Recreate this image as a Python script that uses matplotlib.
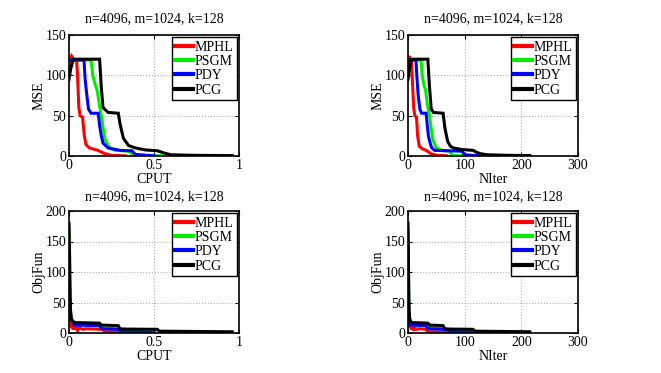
import matplotlib

matplotlib.use("Agg")
import matplotlib.pyplot as plt

plt.rcParams["font.family"] = ["Liberation Serif", "DejaVu Serif"]
plt.rcParams["font.size"] = 10

TITLE = "n=4096, m=1024, k=128"
METHODS = ["MPHL", "PSGM", "PDY", "PCG"]
COLORS = ["#ff0000", "#00ee00", "#0000ff", "#000000"]

# MSE vs CPU time
MSE_CPUT_MPHL_X = [0, 0.005, 0.015, 0.03, 0.045, 0.05, 0.058, 0.065, 0.08, 0.09, 0.1, 0.12, 0.17, 0.21, 0.25, 0.33]
MSE_CPUT_MPHL_Y = [112, 120, 124, 119, 118, 100, 60, 50, 48, 25, 14, 10, 7, 3, 0.8, 0.3]
MSE_CPUT_PSGM_X = [0, 0.13, 0.14, 0.155, 0.165, 0.18, 0.19, 0.2, 0.212, 0.24, 0.27, 0.35, 0.37, 0.39, 0.55]
MSE_CPUT_PSGM_Y = [119, 119, 100, 88, 82, 62, 50, 35, 20, 10, 7, 6, 3, 0.5, 0.2]
MSE_CPUT_PDY_X = [0, 0.088, 0.095, 0.105, 0.115, 0.13, 0.172, 0.18, 0.19, 0.2, 0.23, 0.3, 0.37, 0.39, 0.45, 0.5]
MSE_CPUT_PDY_Y = [119, 119, 95, 75, 58, 53, 53, 38, 25, 16, 10, 7, 6.5, 2, 1, 0.3]
MSE_CPUT_PCG_X = [0, 0.01, 0.025, 0.18, 0.19, 0.2, 0.23, 0.29, 0.3, 0.32, 0.35, 0.39, 0.45, 0.52, 0.555, 0.6, 0.75, 0.96]
MSE_CPUT_PCG_Y = [95, 108, 120, 120, 85, 60, 54, 53, 40, 22, 13, 10, 7.5, 6.5, 4, 1.5, 0.8, 0.5]

# MSE vs iterations
MSE_NITER_MPHL_X = [0, 2, 4, 6, 8, 10, 12, 15, 17, 20, 25, 32, 40, 50, 68]
MSE_NITER_MPHL_Y = [115, 124, 119, 118, 90, 60, 50, 48, 25, 12, 9, 7, 3, 1, 0.3]
MSE_NITER_PSGM_X = [0, 23, 25, 28, 31, 34, 38, 41, 44, 50, 60, 73, 76, 80, 100]
MSE_NITER_PSGM_Y = [119, 119, 100, 88, 82, 65, 50, 33, 20, 10, 7, 6, 3, 0.5, 0.2]
MSE_NITER_PDY_X = [0, 14, 16, 18, 21, 24, 32, 34, 36, 39, 42, 47, 70, 95, 100, 125]
MSE_NITER_PDY_Y = [119, 119, 95, 75, 58, 53, 53, 38, 25, 16, 10, 7, 6.5, 6, 1.5, 0.3]
MSE_NITER_PCG_X = [0, 3, 6, 35, 38, 41, 45, 62, 65, 70, 75, 80, 95, 115, 120, 127, 140, 180, 215]
MSE_NITER_PCG_Y = [95, 110, 120, 120, 85, 58, 54, 53, 35, 18, 12, 10, 8, 7, 5, 3, 1.5, 0.8, 0.5]

# objective function vs CPU time
OBJ_CPUT_MPHL_X = [0, 0.003, 0.006, 0.01, 0.015, 0.02, 0.025, 0.03, 0.035, 0.04, 0.05, 0.06, 0.08, 0.1, 0.2, 0.21, 0.33]
OBJ_CPUT_MPHL_Y = [90, 30, 10, 25, 8, 18, 5, 14, 6, 10, 4, 9, 6, 7, 6, 2, 1.5]
OBJ_CPUT_PSGM_X = [0, 0.004, 0.01, 0.03, 0.18, 0.2, 0.33, 0.35, 0.5]
OBJ_CPUT_PSGM_Y = [170, 60, 25, 17, 16, 8, 6, 2, 1]
OBJ_CPUT_PDY_X = [0, 0.004, 0.01, 0.03, 0.18, 0.19, 0.3, 0.31, 0.45, 0.5]
OBJ_CPUT_PDY_Y = [150, 60, 25, 13, 12, 7, 6, 2, 1.5, 1]
OBJ_CPUT_PCG_X = [0, 0.004, 0.008, 0.015, 0.03, 0.18, 0.19, 0.29, 0.3, 0.52, 0.53, 0.96]
OBJ_CPUT_PCG_Y = [180, 120, 40, 22, 17, 16, 13, 12, 6.5, 6, 3, 2]

# objective function vs iterations
OBJ_NITER_MPHL_X = [0, 1, 2, 3, 4, 5, 6, 7, 8, 9, 10, 12, 15, 20, 32, 35, 68]
OBJ_NITER_MPHL_Y = [90, 30, 10, 25, 8, 18, 5, 14, 6, 10, 4, 9, 6, 7, 6, 2, 1.5]
OBJ_NITER_PSGM_X = [0, 1, 2, 4, 35, 40, 73, 76, 100]
OBJ_NITER_PSGM_Y = [170, 50, 22, 17, 16, 8, 6, 2, 1]
OBJ_NITER_PDY_X = [0, 1, 2, 4, 32, 35, 70, 73, 100, 125]
OBJ_NITER_PDY_Y = [150, 50, 22, 13, 12, 7, 6, 2, 1.5, 1]
OBJ_NITER_PCG_X = [0, 1, 2, 3, 6, 35, 38, 62, 65, 115, 118, 215]
OBJ_NITER_PCG_Y = [180, 100, 35, 22, 17, 16, 13, 12, 6.5, 6, 3, 2]


def draw_panel(ax, series, xlabel, ylabel, xlim, xticks, ylim, yticks, title_pad):
    for (x, y), name, color in zip(series, METHODS, COLORS):
        ax.plot(x, y, color=color, lw=2.2, label=name, solid_joinstyle="miter")
    ax.set_xlim(*xlim)
    ax.set_ylim(*ylim)
    ax.set_xticks(xticks)
    ax.set_yticks(yticks)
    ax.set_xticklabels([f"{t:g}" for t in xticks])
    ax.set_xlabel(xlabel, labelpad=1)
    ax.set_ylabel(ylabel, labelpad=0)
    ax.set_title(TITLE, fontsize=10, pad=title_pad)
    ax.grid(True, color="#b0b0b0", linestyle=":", lw=0.8)
    ax.tick_params(direction="in", length=3, width=0.8, pad=2, top=True, right=True, labelsize=10)
    for spine in ax.spines.values():
        spine.set_linewidth(1.2)
    leg = ax.legend(
        loc="upper right",
        fontsize=10,
        handlelength=1.25,
        handletextpad=0.15,
        labelspacing=0.1,
        borderpad=0.25,
        borderaxespad=0.15,
        fancybox=False,
        framealpha=1,
    )
    leg.get_frame().set_edgecolor("black")
    leg.get_frame().set_linewidth(1.0)
    for line in leg.get_lines():
        line.set_linewidth(3)


fig = plt.figure(figsize=(6.61, 3.73), dpi=100)
W, H = 661, 373
ax_tl = fig.add_axes([69 / W, 1 - 156 / H, 170 / W, 121 / H])
ax_tr = fig.add_axes([408 / W, 1 - 156 / H, 170 / W, 121 / H])
ax_bl = fig.add_axes([69 / W, 1 - 333 / H, 170 / W, 122 / H])
ax_br = fig.add_axes([408 / W, 1 - 333 / H, 170 / W, 122 / H])

draw_panel(
    ax_tl,
    [(MSE_CPUT_MPHL_X, MSE_CPUT_MPHL_Y), (MSE_CPUT_PSGM_X, MSE_CPUT_PSGM_Y),
     (MSE_CPUT_PDY_X, MSE_CPUT_PDY_Y), (MSE_CPUT_PCG_X, MSE_CPUT_PCG_Y)],
    "CPUT", "MSE", (0, 1), [0, 0.5, 1], (0, 150), [0, 50, 100, 150], 9,
)
draw_panel(
    ax_tr,
    [(MSE_NITER_MPHL_X, MSE_NITER_MPHL_Y), (MSE_NITER_PSGM_X, MSE_NITER_PSGM_Y),
     (MSE_NITER_PDY_X, MSE_NITER_PDY_Y), (MSE_NITER_PCG_X, MSE_NITER_PCG_Y)],
    "NIter", "MSE", (0, 300), [0, 100, 200, 300], (0, 150), [0, 50, 100, 150], 9,
)
draw_panel(
    ax_bl,
    [(OBJ_CPUT_MPHL_X, OBJ_CPUT_MPHL_Y), (OBJ_CPUT_PSGM_X, OBJ_CPUT_PSGM_Y),
     (OBJ_CPUT_PDY_X, OBJ_CPUT_PDY_Y), (OBJ_CPUT_PCG_X, OBJ_CPUT_PCG_Y)],
    "CPUT", "ObjFun", (0, 1), [0, 0.5, 1], (0, 200), [0, 50, 100, 150, 200], 7.5,
)
draw_panel(
    ax_br,
    [(OBJ_NITER_MPHL_X, OBJ_NITER_MPHL_Y), (OBJ_NITER_PSGM_X, OBJ_NITER_PSGM_Y),
     (OBJ_NITER_PDY_X, OBJ_NITER_PDY_Y), (OBJ_NITER_PCG_X, OBJ_NITER_PCG_Y)],
    "NIter", "ObjFun", (0, 300), [0, 100, 200, 300], (0, 200), [0, 50, 100, 150, 200], 7.5,
)

fig.savefig("out.png", dpi=100)
